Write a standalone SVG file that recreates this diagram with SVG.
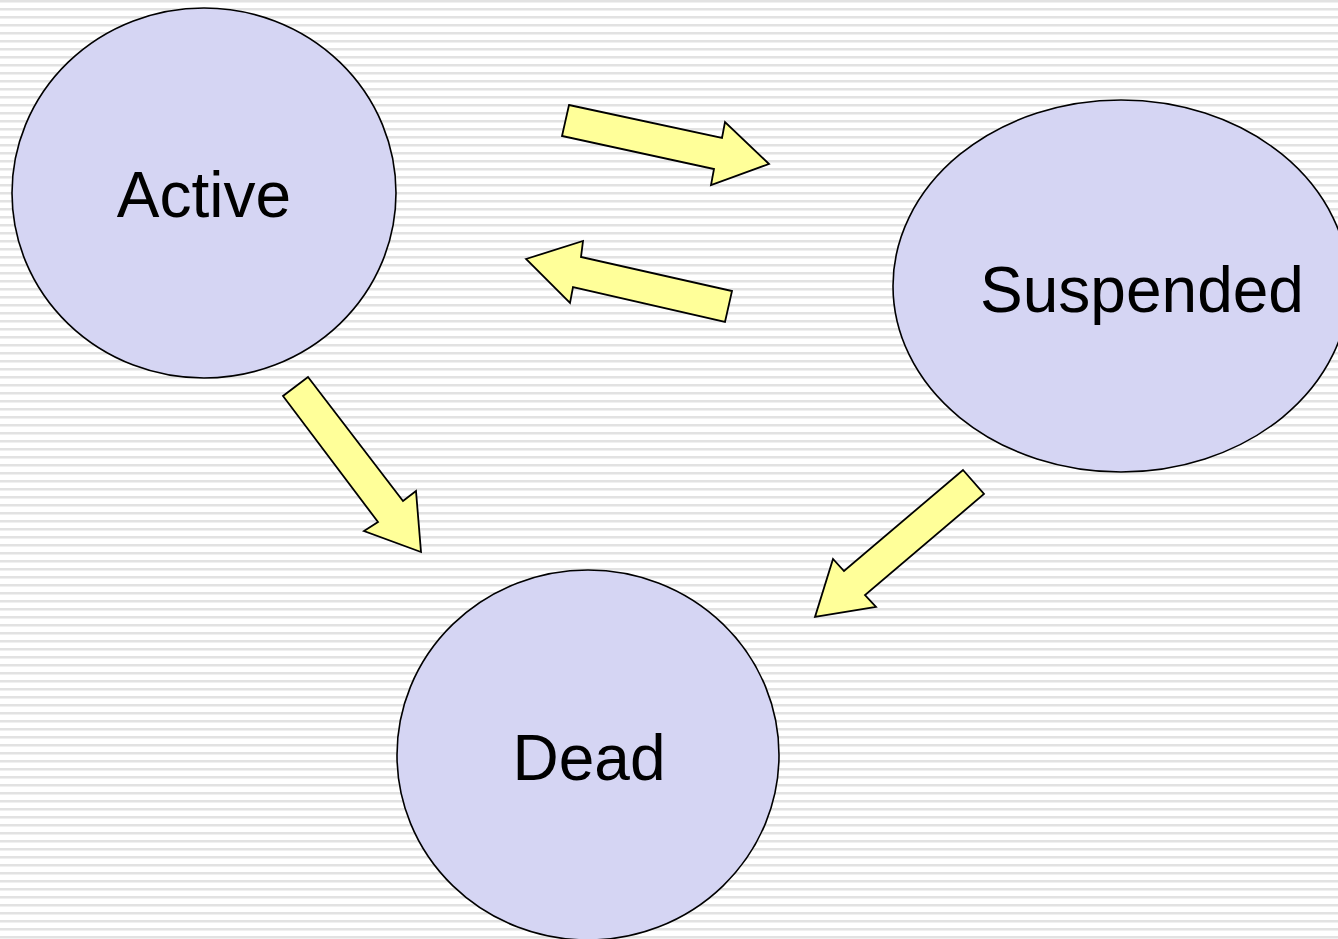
<svg xmlns="http://www.w3.org/2000/svg" width="1338" height="939" viewBox="0 0 1338 939">
<defs>
<pattern id="stripes" x="0" y="0" width="8" height="8" patternUnits="userSpaceOnUse">
<rect width="8" height="8" fill="#ffffff"/>
<rect y="0" width="8" height="2" fill="#e2e2e2"/>
<rect y="2" width="8" height="1" fill="#f0f0f0"/>
</pattern>
<style>
.node{fill:#d5d5f3;stroke:#000;stroke-width:1.6}
.lbl{font-family:"Liberation Sans",Arial,sans-serif;font-size:64px;fill:#000;text-anchor:middle}
.arrow{fill:#ffff99;stroke:#000;stroke-width:1.8;stroke-linejoin:miter}
</style>
</defs>
<rect width="1338" height="939" fill="url(#stripes)"/>
<g id="connectors">
<polygon class="arrow" points="569,105 722,138 725,122 769,164 711,185 714,169 562,136"/>
<polygon class="arrow" points="526,259 583,241 581,257 732,291 725,322 573,287 570,303"/>
<polygon class="arrow" points="308,377 403,501 416,491 421,552 364,531 378,522 283,396"/>
<polygon class="arrow" points="963,470 984,494 865,595 876,607 815,617 833,559 844,571"/>
</g>
<g id="active">
<ellipse class="node" cx="204" cy="193" rx="192" ry="185"/>
<text class="lbl" x="204" y="217">Active</text>
</g>
<g id="suspended">
<ellipse class="node" cx="1121" cy="286" rx="228" ry="186"/>
<text class="lbl" x="1142" y="312">Suspended</text>
</g>
<g id="dead">
<ellipse class="node" cx="588" cy="755" rx="191" ry="185"/>
<text class="lbl" x="589" y="780">Dead</text>
</g>
</svg>
